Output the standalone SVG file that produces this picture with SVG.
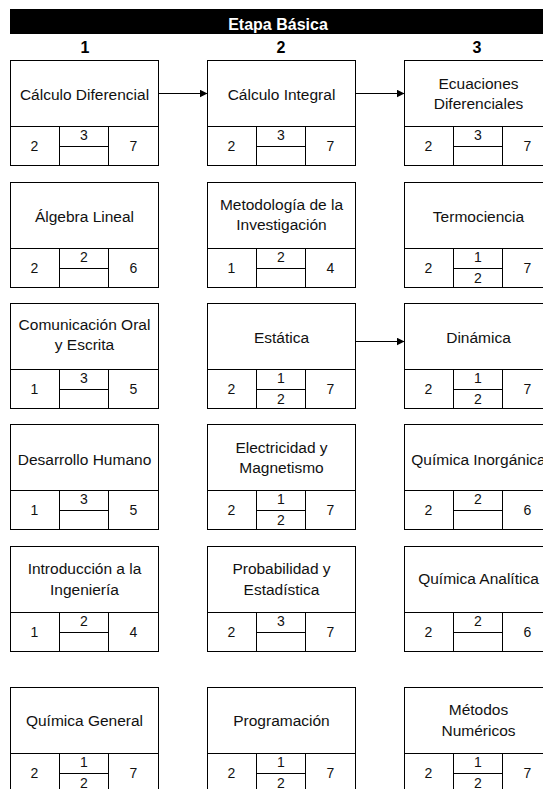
<svg xmlns="http://www.w3.org/2000/svg" width="543" height="789" viewBox="0 0 543 789">
<style>
.bg{fill:#fff}
.box{fill:#fff;stroke:#000;stroke-width:1}
.ln{fill:none;stroke:#000;stroke-width:1}
.t{font-family:"Liberation Sans",Arial,sans-serif;font-size:15.5px;fill:#111;text-anchor:middle}
.n{font-family:"Liberation Sans",Arial,sans-serif;font-size:14px;fill:#111;text-anchor:middle}
.h{font-family:"Liberation Sans",Arial,sans-serif;font-size:16px;font-weight:bold;text-anchor:middle}
.con{fill:none;stroke:#000;stroke-width:1}
</style>
<defs>
<marker id="arr" markerUnits="userSpaceOnUse" markerWidth="9" markerHeight="9" refX="8" refY="4" orient="auto">
<path d="M0,0 L8,4 L0,8 Z" fill="#000"/>
</marker>
<g id="cell">
<rect class="box" x="0.5" y="0.5" width="148" height="105"/>
<path class="ln" d="M0.5 66.5H148.5M49.5 66.5V105.5M98.5 66.5V105.5M49.5 86.5H98.5"/>
</g>
</defs>
<rect class="bg" x="0" y="0" width="543" height="789"/>
<g id="header">
<rect x="10" y="9" width="533" height="25" fill="#000"/>
<text class="h" x="278" y="30" fill="#fff">Etapa Básica</text>
<text class="h" x="85" y="53" fill="#000">1</text>
<text class="h" x="281" y="53" fill="#000">2</text>
<text class="h" x="477" y="53" fill="#000">3</text>
</g>

<!-- Row 1 -->
<g id="calculo-diferencial" transform="translate(10,60)">
<use href="#cell"/>
<text class="t" x="74.5" y="40">Cálculo Diferencial</text>
<text class="n" x="24.5" y="91">2</text><text class="n" x="74" y="80">3</text><text class="n" x="123.5" y="91">7</text>
</g>
<g id="calculo-integral" transform="translate(207,60)">
<use href="#cell"/>
<text class="t" x="74.5" y="40">Cálculo Integral</text>
<text class="n" x="24.5" y="91">2</text><text class="n" x="74" y="80">3</text><text class="n" x="123.5" y="91">7</text>
</g>
<g id="ecuaciones-diferenciales" transform="translate(404,60)">
<use href="#cell"/>
<text class="t" x="74.5" y="29">Ecuaciones</text>
<text class="t" x="74.5" y="49">Diferenciales</text>
<text class="n" x="24.5" y="91">2</text><text class="n" x="74" y="80">3</text><text class="n" x="123.5" y="91">7</text>
</g>

<!-- Row 2 -->
<g id="algebra-lineal" transform="translate(10,182)">
<use href="#cell"/>
<text class="t" x="74.5" y="40">Álgebra Lineal</text>
<text class="n" x="24.5" y="91">2</text><text class="n" x="74" y="80">2</text><text class="n" x="123.5" y="91">6</text>
</g>
<g id="metodologia-investigacion" transform="translate(207,182)">
<use href="#cell"/>
<text class="t" x="74.5" y="28">Metodología de la</text>
<text class="t" x="74.5" y="48">Investigación</text>
<text class="n" x="24.5" y="91">1</text><text class="n" x="74" y="80">2</text><text class="n" x="123.5" y="91">4</text>
</g>
<g id="termociencia" transform="translate(404,182)">
<use href="#cell"/>
<text class="t" x="74.5" y="40">Termociencia</text>
<text class="n" x="24.5" y="91">2</text><text class="n" x="74" y="80">1</text><text class="n" x="74" y="101">2</text><text class="n" x="123.5" y="91">7</text>
</g>

<!-- Row 3 -->
<g id="comunicacion-oral-escrita" transform="translate(10,303)">
<use href="#cell"/>
<text class="t" x="74.5" y="27">Comunicación Oral</text>
<text class="t" x="74.5" y="47">y Escrita</text>
<text class="n" x="24.5" y="91">1</text><text class="n" x="74" y="80">3</text><text class="n" x="123.5" y="91">5</text>
</g>
<g id="estatica" transform="translate(207,303)">
<use href="#cell"/>
<text class="t" x="74.5" y="39.5">Estática</text>
<text class="n" x="24.5" y="91">2</text><text class="n" x="74" y="80">1</text><text class="n" x="74" y="101">2</text><text class="n" x="123.5" y="91">7</text>
</g>
<g id="dinamica" transform="translate(404,303)">
<use href="#cell"/>
<text class="t" x="74.5" y="39.5">Dinámica</text>
<text class="n" x="24.5" y="91">2</text><text class="n" x="74" y="80">1</text><text class="n" x="74" y="101">2</text><text class="n" x="123.5" y="91">7</text>
</g>

<!-- Row 4 -->
<g id="desarrollo-humano" transform="translate(10,424)">
<use href="#cell"/>
<text class="t" x="74.5" y="40.5">Desarrollo Humano</text>
<text class="n" x="24.5" y="91">1</text><text class="n" x="74" y="80">3</text><text class="n" x="123.5" y="91">5</text>
</g>
<g id="electricidad-magnetismo" transform="translate(207,424)">
<use href="#cell"/>
<text class="t" x="74.5" y="29">Electricidad y</text>
<text class="t" x="74.5" y="49">Magnetismo</text>
<text class="n" x="24.5" y="91">2</text><text class="n" x="74" y="80">1</text><text class="n" x="74" y="101">2</text><text class="n" x="123.5" y="91">7</text>
</g>
<g id="quimica-inorganica" transform="translate(404,424)">
<use href="#cell"/>
<text class="t" x="74.5" y="40.5">Química Inorgánica</text>
<text class="n" x="24.5" y="91">2</text><text class="n" x="74" y="80">2</text><text class="n" x="123.5" y="91">6</text>
</g>

<!-- Row 5 -->
<g id="introduccion-ingenieria" transform="translate(10,546)">
<use href="#cell"/>
<text class="t" x="74.5" y="28">Introducción a la</text>
<text class="t" x="74.5" y="49">Ingeniería</text>
<text class="n" x="24.5" y="91">1</text><text class="n" x="74" y="80">2</text><text class="n" x="123.5" y="91">4</text>
</g>
<g id="probabilidad-estadistica" transform="translate(207,546)">
<use href="#cell"/>
<text class="t" x="74.5" y="28">Probabilidad y</text>
<text class="t" x="74.5" y="49">Estadística</text>
<text class="n" x="24.5" y="91">2</text><text class="n" x="74" y="80">3</text><text class="n" x="123.5" y="91">7</text>
</g>
<g id="quimica-analitica" transform="translate(404,546)">
<use href="#cell"/>
<text class="t" x="74.5" y="38">Química Analítica</text>
<text class="n" x="24.5" y="91">2</text><text class="n" x="74" y="80">2</text><text class="n" x="123.5" y="91">6</text>
</g>

<!-- Row 6 -->
<g id="quimica-general" transform="translate(10,687)">
<use href="#cell"/>
<text class="t" x="74.5" y="39">Química General</text>
<text class="n" x="24.5" y="91">2</text><text class="n" x="74" y="80">1</text><text class="n" x="74" y="101">2</text><text class="n" x="123.5" y="91">7</text>
</g>
<g id="programacion" transform="translate(207,687)">
<use href="#cell"/>
<text class="t" x="74.5" y="39">Programación</text>
<text class="n" x="24.5" y="91">2</text><text class="n" x="74" y="80">1</text><text class="n" x="74" y="101">2</text><text class="n" x="123.5" y="91">7</text>
</g>
<g id="metodos-numericos" transform="translate(404,687)">
<use href="#cell"/>
<text class="t" x="74.5" y="28">Métodos</text>
<text class="t" x="74.5" y="49">Numéricos</text>
<text class="n" x="24.5" y="91">2</text><text class="n" x="74" y="80">1</text><text class="n" x="74" y="101">2</text><text class="n" x="123.5" y="91">7</text>
</g>

<g id="connectors">
<path class="con" d="M158.5 93.5H207.5" marker-end="url(#arr)"/>
<path class="con" d="M355.5 93.5H404.5" marker-end="url(#arr)"/>
<path class="con" d="M355.5 341.5H404.5" marker-end="url(#arr)"/>
</g>
</svg>
